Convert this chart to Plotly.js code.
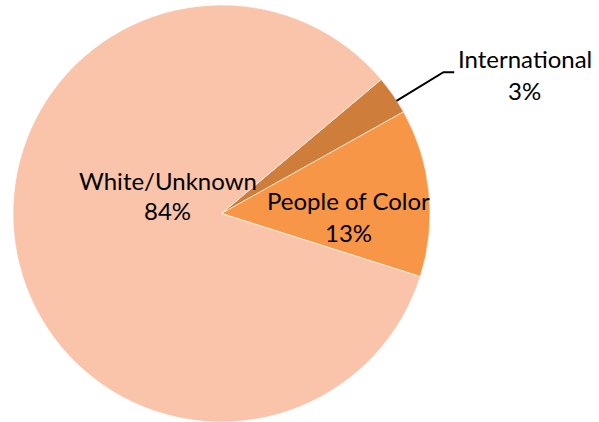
<!DOCTYPE html>
<html>
<head>
<meta charset="utf-8">
<script src="https://cdn.plot.ly/plotly-3.0.1.min.js"></script>
<style>html,body{margin:0;padding:0;background:#fff;}#chart{width:599px;height:422px;}</style>
</head>
<body>
<div id="chart"></div>
<script>
var categories = ["International", "People of Color", "White/Unknown"];
var shares = [3, 13, 84];
var sliceColors = ["#CF7D3B", "#F79646", "#F9C4A9"];

var W = 599, H = 422;
function px(x){ return x / W; }
function py(y){ return 1 - y / H; }

// label positions (pixels): [x, name y, percent y]
var labelPos = [[523, 54, 87], [343, 198, 230], [158, 178, 208]];
var fnt = {family: "Lato, 'Open Sans', sans-serif", size: 24, color: "#000"};

var annotations = [];
categories.forEach(function(c, i){
  annotations.push({
    text: c, x: px(labelPos[i][0]), y: py(labelPos[i][1]),
    xref: "paper", yref: "paper", xanchor: "center", yanchor: "middle",
    showarrow: false, font: fnt
  });
  annotations.push({
    text: shares[i] + "%", x: px(labelPos[i][0]), y: py(labelPos[i][2]),
    xref: "paper", yref: "paper", xanchor: "center", yanchor: "middle",
    showarrow: false, font: fnt
  });
});

var data = [{
  type: "pie",
  labels: categories,
  values: shares,
  sort: false,
  direction: "clockwise",
  rotation: 50,
  marker: {colors: sliceColors, line: {color: "#ffffff", width: 0.6}},
  textinfo: "none",
  hoverinfo: "none",
  showlegend: false,
  domain: {x: [0, 417/586], y: [0, 1]}
}];

var layout = {
  width: W, height: H,
  margin: {l: 13, r: 0, t: 5, b: 0, pad: 0},
  paper_bgcolor: "#fff",
  plot_bgcolor: "#fff",
  showlegend: false,
  annotations: annotations,
  shapes: [{
    type: "path",
    xref: "paper", yref: "paper",
    path: "M " + px(392) + "," + py(97) + " L " + px(440) + "," + py(68) + " L " + px(451) + "," + py(68),
    line: {color: "#000", width: 2}
  }]
};

Plotly.newPlot("chart", data, layout, {staticPlot: true});
</script>
</body>
</html>
